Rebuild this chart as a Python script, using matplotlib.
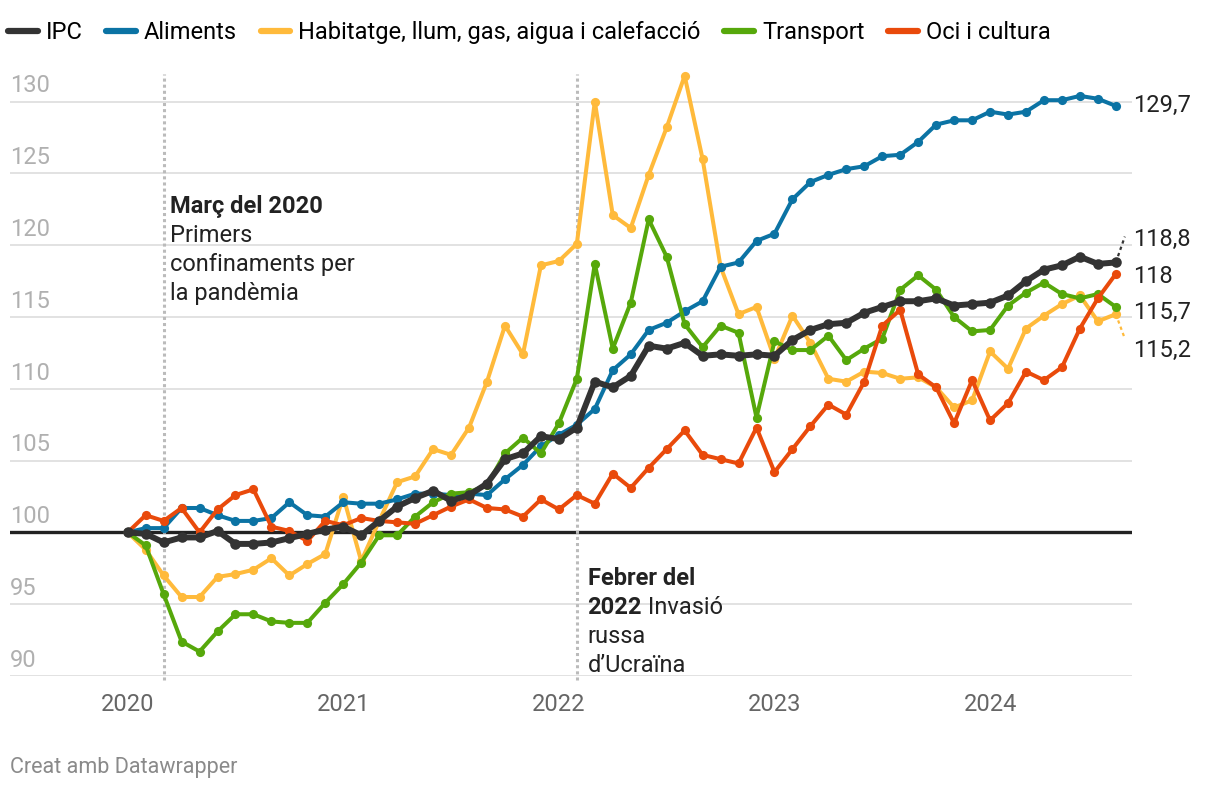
import numpy as np
import matplotlib.pyplot as plt
from matplotlib.lines import Line2D

plt.rcParams['font.family'] = ['Roboto', 'DejaVu Sans']

# monthly index, gener 2020 = 100 (Jan 2020 .. Aug 2024)
years = ['2020', '2021', '2022', '2023', '2024']

ipc = [100.0, 99.9, 99.3, 99.65, 99.65, 100.1, 99.2, 99.2, 99.3, 99.6, 99.9, 100.2,
       100.4, 99.8, 100.8, 101.8, 102.4, 102.9, 102.2, 102.6, 103.4, 105.1, 105.5, 106.7,
       106.5, 107.3, 110.5, 110.1, 110.9, 113.0, 112.8, 113.2, 112.3, 112.4, 112.3, 112.4,
       112.3, 113.4, 114.1, 114.5, 114.6, 115.3, 115.7, 116.1, 116.1, 116.3, 115.8, 115.9,
       116.0, 116.5, 117.5, 118.3, 118.6, 119.2, 118.7, 118.8]
aliments = [100.0, 100.3, 100.3, 101.7, 101.7, 101.2, 100.8, 100.8, 101.0, 102.1, 101.2, 101.1,
            102.1, 102.0, 102.0, 102.3, 102.7, 102.7, 102.6, 102.7, 102.6, 103.7, 104.7, 106.0,
            106.8, 107.5, 108.6, 111.3, 112.4, 114.1, 114.6, 115.4, 116.1, 118.5, 118.8, 120.3,
            120.8, 123.2, 124.4, 124.9, 125.3, 125.5, 126.2, 126.3, 127.2, 128.4, 128.7, 128.7,
            129.3, 129.1, 129.3, 130.1, 130.1, 130.4, 130.2, 129.7]
habitatge = [100.0, 98.8, 97.0, 95.5, 95.5, 96.9, 97.1, 97.4, 98.2, 97.0, 97.8, 98.5,
             102.5, 98.0, 100.8, 103.5, 103.9, 105.8, 105.4, 107.3, 110.5, 114.4, 112.4, 118.6,
             118.9, 120.1, 130.0, 122.1, 121.2, 124.9, 128.2, 131.8, 126.0, 118.5, 115.2, 115.7,
             112.1, 115.1, 113.2, 110.7, 110.5, 111.2, 111.1, 110.7, 110.8, 110.1, 108.7, 109.2,
             112.6, 111.4, 114.2, 115.1, 115.9, 116.5, 114.7, 115.2]
transport = [100.0, 99.1, 95.7, 92.4, 91.7, 93.1, 94.3, 94.3, 93.8, 93.7, 93.7, 95.1,
             96.4, 97.9, 99.8, 99.8, 101.1, 102.1, 102.7, 102.8, 103.3, 105.5, 106.6, 105.5,
             107.6, 110.7, 118.7, 112.8, 116.0, 121.8, 119.2, 114.5, 112.9, 114.4, 113.9, 108.0,
             113.3, 112.7, 112.7, 113.7, 112.0, 112.8, 113.5, 116.9, 117.9, 116.9, 115.0, 114.0,
             114.1, 115.8, 116.7, 117.4, 116.6, 116.3, 116.6, 115.7]
oci = [100.0, 101.2, 100.8, 101.7, 100.0, 101.6, 102.6, 103.0, 100.4, 100.1, 99.4, 100.8,
       100.5, 101.0, 100.8, 100.7, 100.6, 101.2, 101.8, 102.3, 101.7, 101.6, 101.1, 102.3,
       101.6, 102.6, 102.0, 104.1, 103.1, 104.5, 105.8, 107.1, 105.4, 105.1, 104.8, 107.3,
       104.2, 105.8, 107.4, 108.9, 108.2, 110.5, 114.4, 115.5, 111.0, 110.1, 107.6, 110.6,
       107.8, 109.0, 111.2, 110.6, 111.5, 114.2, 116.3, 118.0]

names = ['IPC', 'Aliments', 'Habitatge, llum, gas, aigua i calefacció', 'Transport', 'Oci i cultura']
values = [ipc, aliments, habitatge, transport, oci]
colors = ['#333333', '#0b73a4', '#ffba3b', '#56a80b', '#e94a0b']
zorders = [8, 5, 4, 6, 7]
label_shift = [1.6, 0.0, -2.5, -0.35, -0.2]   # vertical nudge of end labels
leader = [1.8, 0.0, -1.7, 0.0, 0.0]           # dotted leader to moved labels

TXT = '#222222'
PITCH = 20.9   # line pitch of annotations, points

fig = plt.figure(figsize=(12.2, 7.94), dpi=100)
ax = fig.add_axes([10 / 1220, 118 / 794, 1122 / 1220, 616 / 794])
ax.set_xlim(-6.55, 55.9)
ax.set_ylim(90, 132.9)
for s in ax.spines.values():
    s.set_visible(False)

# grid + y labels sitting above the lines
for v in range(90, 131, 5):
    if v != 100:
        ax.axhline(v, color='#e2e2e2', lw=1.4, zorder=0)
    ax.annotate(str(v), xy=(0, v), xycoords=('axes fraction', 'data'),
                xytext=(0, 3), textcoords='offset points',
                ha='left', va='bottom', fontsize=17, color='#b0b0b0')
ax.axhline(100, color='#222222', lw=2.4, zorder=1)
ax.set_yticks([])

x = np.arange(len(ipc))
ax.set_xticks(np.arange(len(years)) * 12)
ax.set_xticklabels(years, fontsize=17, color='#666666')
ax.tick_params(axis='x', length=0, pad=12)

# event markers
for ev in [2, 25]:
    ax.vlines(ev, 89.7, 131.9, color='#bbbbbb', lw=2.2, linestyles=(0, (1, 1)),
              zorder=2, clip_on=False)


def note_line(xy, k, text, **kw):
    return ax.annotate(text, xy=xy, xytext=(0, -PITCH * k), textcoords='offset points',
                       ha='left', va='center', fontsize=17, color=TXT, **kw)


a1 = (2.35, 122.7)
note_line(a1, 0, 'Març del 2020', weight='bold')
note_line(a1, 1, 'Primers')
note_line(a1, 2, 'confinaments per')
note_line(a1, 3, 'la pandèmia')

a2 = (25.6, 96.8)
note_line(a2, 0, 'Febrer del', weight='bold')
t4 = note_line(a2, 1, '2022', weight='bold')
ax.annotate(' Invasió', xy=(1, 0), xycoords=t4, ha='left', va='bottom',
            fontsize=17, color=TXT)
note_line(a2, 2, 'russa')
note_line(a2, 3, 'd’Ucraïna')

# series
for name, vals, c, z, sh, ld in zip(names, values, colors, zorders, label_shift, leader):
    big = name == 'IPC'
    ax.plot(x, vals, color=c, lw=4.3 if big else 2.9, marker='o',
            ms=7.6 if big else 6.6, mec='none', zorder=z, clip_on=False)
    last = vals[-1]
    ax.text(55.95, last + sh, f'{last:.1f}'.replace('.', ',').replace(',0', ''),
            fontsize=17, color=TXT, va='center', ha='left', clip_on=False)
    if ld:
        ax.plot([x[-1], x[-1] + 0.5], [last, last + ld], ls=(0, (1.5, 1.5)),
                color=c, lw=1.6, zorder=z, clip_on=False)

handles = [Line2D([], [], color=c, lw=4.5, solid_capstyle='round') for c in colors]
fig.legend(handles, names, loc='upper left', bbox_to_anchor=(8 / 1220, 1 - 21 / 794),
           ncol=5, frameon=False, fontsize=17, handlelength=1.25, handletextpad=0.35,
           columnspacing=1.0, borderpad=0, borderaxespad=0)

fig.text(10 / 1220, 1 - 768 / 794, 'Creat amb Datawrapper', fontsize=15.5,
         color='#8a8a8a', va='center')

fig.savefig('out.png', dpi=100)
